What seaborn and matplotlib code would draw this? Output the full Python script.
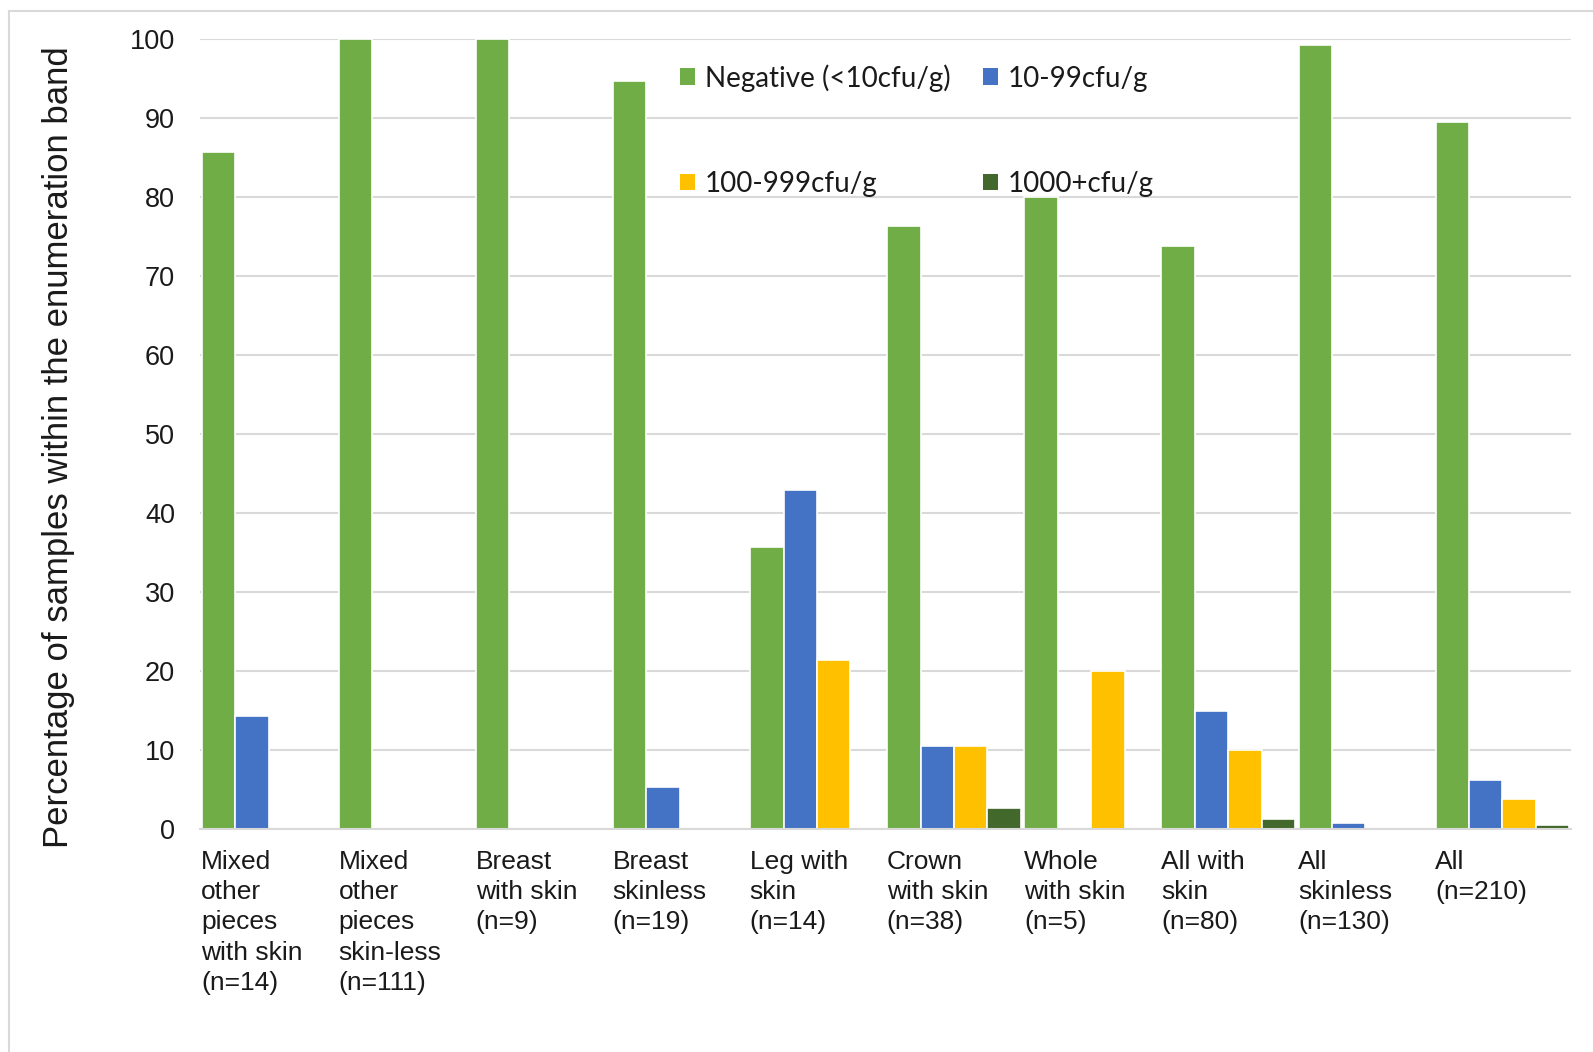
import numpy as np
import pandas as pd
import matplotlib
matplotlib.use("Agg")
import matplotlib.pyplot as plt
from matplotlib.lines import Line2D
from matplotlib.patches import Patch
import seaborn as sns

categories = [
    "Mixed\nother\npieces\nwith skin\n(n=14)",
    "Mixed\nother\npieces\nskin-less\n(n=111)",
    "Breast\nwith skin\n(n=9)",
    "Breast\nskinless\n(n=19)",
    "Leg with\nskin\n(n=14)",
    "Crown\nwith skin\n(n=38)",
    "Whole\nwith skin\n(n=5)",
    "All with\nskin\n(n=80)",
    "All\nskinless\n(n=130)",
    "All\n(n=210)",
]
series_names = ["Negative (<10cfu/g)", "10-99cfu/g", "100-999cfu/g", "1000+cfu/g"]
negative = [85.7, 100.0, 100.0, 94.7, 35.7, 76.3, 80.0, 73.8, 99.2, 89.5]
band_10_99 = [14.3, 0.0, 0.0, 5.3, 42.9, 10.5, 0.0, 15.0, 0.8, 6.2]
band_100_999 = [0.0, 0.0, 0.0, 0.0, 21.4, 10.5, 20.0, 10.0, 0.0, 3.8]
band_1000 = [0.0, 0.0, 0.0, 0.0, 0.0, 2.6, 0.0, 1.3, 0.0, 0.5]
yticks = [0, 10, 20, 30, 40, 50, 60, 70, 80, 90, 100]
colors = ["#70AD47", "#4472C4", "#FFC000", "#43682B"]

rows = []
for name, vals in zip(series_names, [negative, band_10_99, band_100_999, band_1000]):
    for c, v in zip(categories, vals):
        rows.append({"cat": c, "series": name, "value": v})
df = pd.DataFrame(rows)

sns.set_theme(style="white")
plt.rcParams["font.family"] = ["Liberation Sans", "DejaVu Sans"]

fig = plt.figure(figsize=(15.93, 10.52), dpi=100)
ax = fig.add_axes([200 / 1593, 1 - 829 / 1052, 1371 / 1593, 790 / 1052])

sns.barplot(data=df, x="cat", y="value", hue="series", order=categories,
            hue_order=series_names, palette=colors, saturation=1, width=0.975, gap=0.0,
            edgecolor="white", linewidth=1.2, ax=ax, legend=False, errorbar=None)

ax.set_xlim(-0.5, len(categories) - 0.5)
ax.set_ylim(0, 100)
ax.set_yticks(yticks)
ax.set_yticklabels([str(t) for t in yticks], fontsize=19.5, color="#1a1a1a")
ax.tick_params(axis="y", length=0, pad=18)
ax.set_xticks(np.arange(len(categories)) - 0.49)
ax.set_xticklabels(categories, ha="left", va="top", fontsize=19, color="#1a1a1a",
                   linespacing=1.33)
ax.tick_params(axis="x", length=0, pad=15)
ax.set_xlabel("")
ax.set_ylabel("Percentage of samples within the enumeration band", fontsize=25,
              color="#1a1a1a")
ax.yaxis.set_label_coords(-0.0915, 0.484)
ax.grid(axis="y", color="#D9D9D9", linewidth=1.5)
ax.set_axisbelow(True)
for s in ["top", "right", "left"]:
    ax.spines[s].set_visible(False)
ax.spines["bottom"].set_color("#D9D9D9")
ax.spines["bottom"].set_linewidth(1.5)

# legend laid out row-wise (matplotlib fills columns first)
order = [0, 2, 1, 3]
handles = [Patch(facecolor=colors[i], edgecolor="none") for i in order]
labels = [series_names[i] for i in order]
leg = ax.legend(handles, labels, ncol=2, frameon=False, loc="upper left",
                bbox_to_anchor=(455 / 1371, 1.0), prop={"family": "Lato", "size": 20},
                handlelength=0.55, handleheight=0.55, handletextpad=0.35,
                columnspacing=1.15, labelspacing=2.85)
for t in leg.get_texts():
    t.set_color("#1a1a1a")

fig.add_artist(Line2D([9 / 1593, 1.0], [1 - 11 / 1052, 1 - 11 / 1052],
                      transform=fig.transFigure, color="#D9D9D9", linewidth=1.5))
fig.add_artist(Line2D([9 / 1593, 9 / 1593], [0, 1 - 11 / 1052],
                      transform=fig.transFigure, color="#D9D9D9", linewidth=1.5))

fig.savefig("out.png", dpi=100)
